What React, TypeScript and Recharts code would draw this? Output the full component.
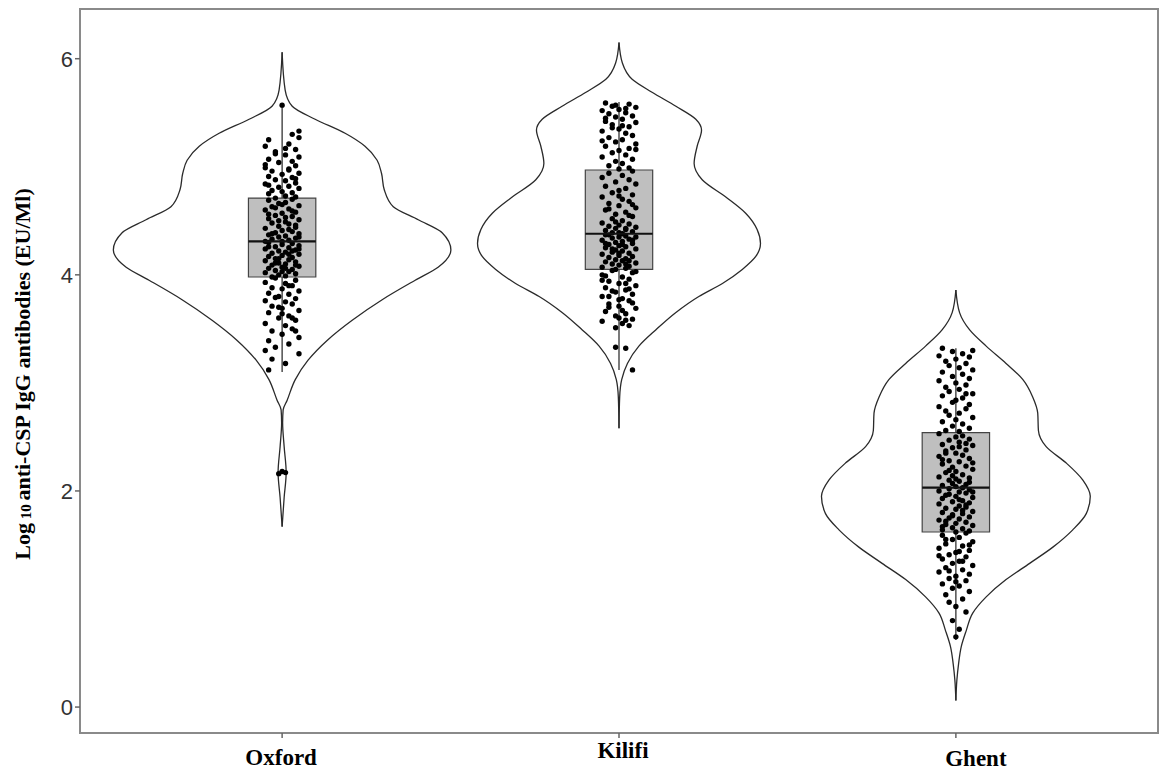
import { ComposedChart, Scatter, XAxis, YAxis, ReferenceArea, Label } from 'recharts';

// ─── Categories & axis ────────────────────────────────────────────────────────
const SITES = ['Oxford', 'Kilifi', 'Ghent'];
const SITE_POS = [1, 2, 3];
const Y_TICKS = [0, 2, 4, 6];

// ─── Violin outlines: value grid + half-width (category units) ───────────────
const oxfordViolinY = [6.06, 5.71, 5.56, 5.44, 5.31, 5.19, 5.06, 4.94, 4.79, 4.63, 4.51, 4.39, 4.23, 4.07, 3.95, 3.77, 3.58, 3.40, 3.21, 3.03, 2.84, 2.75, 2.63, 2.41, 2.17, 1.94, 1.67];
const oxfordViolinW = [0, 0.009, 0.030, 0.098, 0.187, 0.246, 0.282, 0.295, 0.303, 0.330, 0.404, 0.475, 0.501, 0.463, 0.395, 0.297, 0.208, 0.136, 0.077, 0.039, 0.015, 0.003, 0.0015, 0.006, 0.012, 0.006, 0];

const kilifiViolinY = [6.15, 5.96, 5.81, 5.69, 5.56, 5.44, 5.34, 5.19, 5.03, 4.88, 4.72, 4.57, 4.42, 4.29, 4.17, 4.05, 3.92, 3.80, 3.65, 3.49, 3.34, 3.18, 3.03, 2.87, 2.58];
const kilifiViolinW = [0, 0.010, 0.039, 0.098, 0.169, 0.228, 0.245, 0.232, 0.223, 0.247, 0.317, 0.376, 0.410, 0.420, 0.406, 0.366, 0.307, 0.237, 0.168, 0.109, 0.059, 0.025, 0.008, 0.002, 0];

const ghentViolinY = [3.86, 3.65, 3.49, 3.34, 3.18, 3.03, 2.87, 2.72, 2.56, 2.41, 2.26, 2.10, 1.95, 1.79, 1.64, 1.48, 1.33, 1.18, 1.02, 0.87, 0.71, 0.56, 0.40, 0.25, 0.06];
const ghentViolinW = [0, 0.011, 0.041, 0.090, 0.149, 0.199, 0.228, 0.243, 0.245, 0.268, 0.327, 0.377, 0.399, 0.387, 0.347, 0.288, 0.219, 0.149, 0.090, 0.050, 0.031, 0.016, 0.008, 0.003, 0];

// ─── Box stats: [whisker low, Q1, median, Q3, whisker high] ──────────────────
const oxfordBox = [3.10, 3.98, 4.31, 4.71, 5.57];
const kilifiBox = [3.12, 4.05, 4.38, 4.97, 5.60];
const ghentBox = [0.62, 1.62, 2.03, 2.54, 3.32];

// ─── Jittered observations: [offset in 1/100 category, value] ────────────────
const oxfordPoints = [
  [0, 5.57], [5, 5.33], [3, 5.30], [-4, 5.25], [5, 5.27], [2, 5.21], [-5, 5.19], [4, 5.16], [-2, 5.14], [1, 5.11],
  [5, 5.09], [-4, 5.07], [3, 5.05], [-1, 5.04], [4, 5.01], [-5, 4.99], [2, 4.98], [-3, 4.96], [5, 4.94], [0, 4.93],
  [-4, 4.91], [3, 4.90], [-2, 4.88], [1, 4.87], [4, 4.85], [-5, 4.84], [2, 4.82], [-1, 4.81], [5, 4.80], [-3, 4.78],
  [0, 4.77], [3, 4.76], [-4, 4.75], [1, 4.73], [4, 4.72], [-2, 4.71], [-5, 5.02], [2, 4.97], [-2, 5.12], [4, 4.89],
  [-4, 4.83], [1, 5.17],
  [3, 4.70], [-4, 4.69], [1, 4.67], [-1, 4.66], [5, 4.64], [-3, 4.63], [2, 4.61], [-5, 4.60], [4, 4.58], [0, 4.57],
  [-2, 4.55], [3, 4.54], [-4, 4.52], [5, 4.51], [1, 4.49], [-3, 4.48], [2, 4.47], [-1, 4.45], [4, 4.44], [-5, 4.43],
  [0, 4.41], [3, 4.40], [-2, 4.39], [5, 4.38], [-4, 4.37], [1, 4.36], [-1, 4.35], [4, 4.34], [-3, 4.33], [2, 4.32],
  [-5, 4.31], [0, 4.31], [3, 4.59], [-2, 4.62], [4, 4.46], [-4, 4.56], [2, 4.42], [-1, 4.50], [5, 4.35], [1, 4.53],
  [-3, 4.38], [0, 4.65],
  [-4, 4.30], [3, 4.29], [0, 4.28], [5, 4.27], [-2, 4.26], [2, 4.25], [-5, 4.24], [4, 4.23], [-1, 4.22], [1, 4.21],
  [-3, 4.20], [5, 4.19], [0, 4.18], [-4, 4.17], [3, 4.16], [-2, 4.15], [2, 4.14], [-5, 4.13], [4, 4.12], [-1, 4.11],
  [1, 4.10], [-3, 4.09], [5, 4.08], [0, 4.07], [-4, 4.06], [3, 4.05], [-2, 4.04], [2, 4.03], [-5, 4.02], [4, 4.01],
  [-1, 4.00], [1, 3.99], [-3, 3.98], [3, 4.22], [-1, 4.15], [4, 4.09], [-4, 4.26], [0, 4.03], [2, 4.19], [-2, 4.11],
  [5, 4.24], [1, 4.06],
  [-2, 3.97], [4, 3.95], [-5, 3.93], [1, 3.92], [3, 3.90], [-3, 3.88], [0, 3.87], [5, 3.85], [-4, 3.83], [2, 3.82],
  [-1, 3.80], [4, 3.78], [-5, 3.76], [1, 3.75], [3, 3.73], [-3, 3.71], [0, 3.69], [5, 3.67], [-4, 3.65], [2, 3.62],
  [-1, 3.60], [4, 3.58], [-5, 3.55], [1, 3.53], [3, 3.50], [-3, 3.48], [0, 3.45], [5, 3.42], [-4, 3.39], [2, 3.36],
  [-2, 3.33], [4, 3.48], [-5, 3.30], [-3, 3.22], [1, 3.18], [-4, 3.12], [3, 3.60], [-1, 3.70], [2, 3.90], [-2, 3.79],
  [5, 3.27], [0, 3.64],
  [0, 2.18], [1, 2.17], [-1, 2.16],
];

const kilifiPoints = [
  [-4, 5.59], [3, 5.58], [-2, 5.56], [5, 5.55], [0, 5.53], [-5, 5.52], [2, 5.50], [-3, 5.49], [4, 5.47], [-1, 5.46],
  [1, 5.44], [-4, 5.42], [5, 5.41], [-2, 5.39], [3, 5.37], [0, 5.35], [-5, 5.33], [2, 5.31], [4, 5.29], [-3, 5.27],
  [1, 5.25], [-1, 5.23], [5, 5.21], [-4, 5.19], [3, 5.17], [0, 5.15], [-2, 5.13], [2, 5.11], [-5, 5.09], [4, 5.07],
  [-1, 5.05], [1, 5.03], [-3, 5.01], [3, 4.99], [0, 4.98], [-4, 5.45], [2, 5.54], [-2, 5.36], [5, 5.16], [-5, 5.24],
  [1, 5.38], [-1, 5.57],
  [4, 4.96], [-3, 4.94], [1, 4.92], [-5, 4.90], [3, 4.88], [-1, 4.86], [5, 4.84], [-4, 4.82], [2, 4.80], [0, 4.78],
  [-2, 4.76], [4, 4.74], [-5, 4.72], [1, 4.70], [3, 4.68], [-3, 4.66], [0, 4.64], [5, 4.62], [-4, 4.60], [2, 4.58],
  [-1, 4.56], [4, 4.54], [-2, 4.52], [1, 4.50], [-5, 4.48], [3, 4.47], [0, 4.46], [-3, 4.45], [5, 4.44], [-1, 4.43],
  [2, 4.42], [-4, 4.41], [4, 4.40], [0, 4.39], [-2, 4.39], [1, 4.38], [3, 4.55], [-3, 4.61], [0, 4.73], [-1, 4.49],
  [2, 4.43], [4, 4.65],
  [-4, 4.37], [2, 4.36], [0, 4.35], [5, 4.35], [-2, 4.34], [3, 4.33], [-5, 4.32], [1, 4.31], [-1, 4.30], [4, 4.29],
  [-3, 4.28], [0, 4.27], [2, 4.26], [-4, 4.25], [5, 4.24], [-1, 4.23], [1, 4.22], [-2, 4.21], [3, 4.20], [-5, 4.19],
  [0, 4.18], [4, 4.17], [-3, 4.16], [2, 4.15], [-1, 4.14], [1, 4.13], [-4, 4.12], [5, 4.11], [-2, 4.10], [0, 4.09],
  [3, 4.08], [-5, 4.07], [2, 4.06], [-1, 4.05], [4, 4.32], [-3, 4.37], [1, 4.28], [-2, 4.24], [0, 4.20], [3, 4.13],
  [-4, 4.29], [2, 4.10],
  [-2, 4.04], [4, 4.02], [-5, 4.00], [1, 3.98], [3, 3.96], [-3, 3.94], [0, 3.92], [5, 3.90], [-4, 3.88], [2, 3.86],
  [-1, 3.84], [4, 3.82], [-5, 3.80], [1, 3.78], [3, 3.76], [-3, 3.73], [0, 3.71], [5, 3.69], [-4, 3.66], [2, 3.64],
  [-1, 3.62], [4, 3.59], [-5, 3.57], [1, 3.55], [3, 3.53], [-3, 3.70], [0, 3.60], [2, 3.92], [-2, 3.85], [4, 3.74],
  [-4, 3.99], [1, 3.67], [-1, 3.33], [2, 3.32], [4, 3.12], [-3, 3.80], [3, 3.87], [0, 3.77], [-5, 3.95], [5, 4.03],
  [-1, 3.51], [2, 3.58],
];

const ghentPoints = [
  [-4, 3.32], [5, 3.30], [-1, 3.29], [2, 3.27], [-5, 3.25], [4, 3.24], [0, 3.22], [-3, 3.20], [3, 3.18], [-2, 3.16],
  [1, 3.14], [5, 3.12], [-4, 3.10], [2, 3.08], [-1, 3.06], [4, 3.04], [-5, 3.02], [0, 3.00], [3, 2.98], [-3, 2.96],
  [1, 2.94], [-2, 2.92], [5, 2.90], [-4, 2.88], [2, 2.86], [0, 2.84], [-1, 2.82], [4, 2.80], [-5, 2.78], [3, 2.76],
  [-3, 2.74], [1, 2.72], [-2, 2.70], [5, 2.68], [0, 2.66], [-4, 2.64], [2, 2.62], [-1, 2.60], [4, 2.58], [-3, 2.56],
  [1, 2.55], [3, 2.90],
  [-5, 2.53], [2, 2.51], [0, 2.50], [4, 2.48], [-2, 2.47], [1, 2.45], [-4, 2.43], [5, 2.42], [-1, 2.40], [3, 2.38],
  [-3, 2.37], [0, 2.35], [2, 2.33], [-5, 2.32], [4, 2.30], [-2, 2.28], [1, 2.27], [-4, 2.25], [3, 2.23], [-1, 2.22],
  [5, 2.20], [0, 2.18], [-3, 2.17], [2, 2.15], [-5, 2.13], [4, 2.12], [-2, 2.10], [1, 2.09], [-1, 2.07], [3, 2.06],
  [-4, 2.05], [0, 2.04], [2, 2.03], [-3, 2.35], [5, 2.26], [-1, 2.14], [1, 2.41], [-2, 2.19], [4, 2.08], [-4, 2.29],
  [3, 2.44], [0, 2.11],
  [-2, 2.02], [4, 2.01], [-5, 2.00], [1, 1.99], [3, 1.98], [-3, 1.96], [0, 1.95], [5, 1.94], [-4, 1.93], [2, 1.91],
  [-1, 1.90], [4, 1.89], [-5, 1.88], [1, 1.86], [3, 1.85], [-3, 1.84], [0, 1.83], [5, 1.81], [-4, 1.80], [2, 1.79],
  [-1, 1.78], [4, 1.76], [-2, 1.75], [1, 1.74], [-5, 1.73], [3, 1.71], [0, 1.70], [-3, 1.69], [5, 1.68], [-1, 1.66],
  [2, 1.65], [-4, 1.64], [4, 1.63], [0, 1.62], [-2, 1.97], [3, 1.87], [-1, 1.77], [1, 1.92], [-3, 1.72], [2, 1.82],
  [5, 1.99], [-4, 1.67],
  [3, 1.61], [-4, 1.59], [1, 1.57], [-1, 1.55], [5, 1.53], [-3, 1.51], [2, 1.49], [-5, 1.47], [4, 1.45], [0, 1.43],
  [-2, 1.41], [3, 1.39], [-4, 1.37], [1, 1.35], [-1, 1.33], [5, 1.31], [-3, 1.29], [2, 1.27], [-5, 1.25], [4, 1.23],
  [0, 1.21], [-2, 1.19], [3, 1.17], [-4, 1.14], [1, 1.12], [-1, 1.10], [4, 1.07], [-3, 1.04], [2, 1.00], [-2, 0.97],
  [0, 0.93], [3, 0.88], [-1, 0.80], [1, 0.72], [0, 0.65], [2, 1.35], [-2, 1.26], [4, 1.50], [-5, 1.40], [0, 1.16],
  [-3, 1.55], [1, 1.44],
];

// ─── Derived series ───────────────────────────────────────────────────────────
const groups = [
  { pos: SITE_POS[0], vy: oxfordViolinY, vw: oxfordViolinW, box: oxfordBox, pts: oxfordPoints },
  { pos: SITE_POS[1], vy: kilifiViolinY, vw: kilifiViolinW, box: kilifiBox, pts: kilifiPoints },
  { pos: SITE_POS[2], vy: ghentViolinY, vw: ghentViolinW, box: ghentBox, pts: ghentPoints },
];

const BOX_HALF = 0.1;
const X_DOMAIN = [0.4, 3.6];
const Y_DOMAIN = [-0.24, 6.46];

const violinSide = (g: any, sign: number) =>
  g.vy
    .map((y: number, k: number) => ({ x: g.pos + sign * g.vw[k], y }))
    .sort((a: any, b: any) => a.y - b.y);

const NoDot = () => <g />;
const Dot = (p: any) => <circle cx={p.cx} cy={p.cy} r={2.7} fill="#000" />;

// label nudges, matching the slightly uneven category labels of the figure
const X_LABEL_NUDGE = [
  { dx: -1, dy: 32 },
  { dx: 4, dy: 25 },
  { dx: 20, dy: 33 },
];

const XTick = ({ x, y, payload }: any) => {
  const i = SITE_POS.indexOf(payload.value);
  const n = X_LABEL_NUDGE[i];
  return (
    <text
      x={x + n.dx}
      y={y - 7 + n.dy}
      textAnchor="middle"
      style={{ fontFamily: "'Liberation Serif', serif", fontWeight: 700, fontSize: 23, fill: '#000' }}
    >
      {SITES[i]}
    </text>
  );
};

const YTitle = ({ viewBox }: any) => {
  const cx = 22;
  const cy = viewBox.y + viewBox.height / 2 + 3;
  return (
    <text
      x={cx}
      y={cy}
      transform={`rotate(-90, ${cx}, ${cy})`}
      textAnchor="middle"
      dominantBaseline="central"
      style={{ fontFamily: "'Liberation Serif', serif", fontWeight: 700, fontSize: 22, fill: '#000' }}
    >
      Log
      <tspan fontSize={15} dy={4}> 10 </tspan>
      <tspan dy={-4}>anti-CSP IgG antibodies (EU/Ml)</tspan>
    </text>
  );
};

export default function App() {
  return (
    <div style={{ position: 'absolute', left: 0, top: 0, width: 1163, height: 776, background: '#fff' }}>
      <ComposedChart width={1163} height={776} margin={{ top: 9, right: 5, bottom: 0, left: 0 }}>
        <XAxis
          type="number"
          dataKey="x"
          domain={X_DOMAIN}
          allowDataOverflow
          ticks={SITE_POS}
          tick={<XTick />}
          tickSize={5}
          axisLine={false}
          tickLine={{ stroke: '#666', strokeWidth: 1.5 }}
          height={43}
        />
        <YAxis
          type="number"
          dataKey="y"
          domain={Y_DOMAIN}
          allowDataOverflow
          ticks={Y_TICKS}
          tickSize={5}
          width={80}
          axisLine={false}
          tickLine={{ stroke: '#666', strokeWidth: 1.5 }}
          tick={{ fontFamily: "'Liberation Sans', Arial, sans-serif", fontSize: 22, fill: '#333' }}
        >
          <Label content={<YTitle />} />
        </YAxis>

        {/* panel frame */}
        <ReferenceArea
          x1={X_DOMAIN[0]}
          x2={X_DOMAIN[1]}
          y1={Y_DOMAIN[0]}
          y2={Y_DOMAIN[1]}
          fill="none"
          stroke="#8a8a8a"
          strokeWidth={2}
          ifOverflow="visible"
        />

        {/* boxes */}
        {groups.map((g, i) => (
          <ReferenceArea
            key={`box-${i}`}
            x1={g.pos - BOX_HALF}
            x2={g.pos + BOX_HALF}
            y1={g.box[1]}
            y2={g.box[3]}
            fill="#bfbfbf"
            fillOpacity={1}
            stroke="#444"
            strokeWidth={1.2}
          />
        ))}

        {/* violin outlines */}
        {groups.map((g, i) =>
          [-1, 1].map((s) => (
            <Scatter
              key={`v-${i}-${s}`}
              data={violinSide(g, s)}
              line={{ stroke: '#2a2a2a', strokeWidth: 1.3 }}
              lineType="joint"
              lineJointType="monotoneY"
              shape={<NoDot />}
              fill="#2a2a2a"
              isAnimationActive={false}
            />
          ))
        )}

        {/* whiskers */}
        {groups.map((g, i) => (
          <Scatter
            key={`wl-${i}`}
            data={[{ x: g.pos, y: g.box[0] }, { x: g.pos, y: g.box[1] }]}
            line={{ stroke: '#333', strokeWidth: 1.3 }}
            shape={<NoDot />}
            fill="#333"
            isAnimationActive={false}
          />
        ))}
        {groups.map((g, i) => (
          <Scatter
            key={`wh-${i}`}
            data={[{ x: g.pos, y: g.box[3] }, { x: g.pos, y: g.box[4] }]}
            line={{ stroke: '#333', strokeWidth: 1.3 }}
            shape={<NoDot />}
            fill="#333"
            isAnimationActive={false}
          />
        ))}

        {/* jittered points */}
        {groups.map((g, i) => (
          <Scatter
            key={`p-${i}`}
            data={g.pts.map(([j, v]) => ({ x: g.pos + j / 100, y: v }))}
            shape={<Dot />}
            fill="#000"
            isAnimationActive={false}
          />
        ))}

        {/* medians */}
        {groups.map((g, i) => (
          <Scatter
            key={`m-${i}`}
            data={[{ x: g.pos - BOX_HALF, y: g.box[2] }, { x: g.pos + BOX_HALF, y: g.box[2] }]}
            line={{ stroke: '#111', strokeWidth: 2.2 }}
            shape={<NoDot />}
            fill="#111"
            isAnimationActive={false}
          />
        ))}
      </ComposedChart>
    </div>
  );
}
